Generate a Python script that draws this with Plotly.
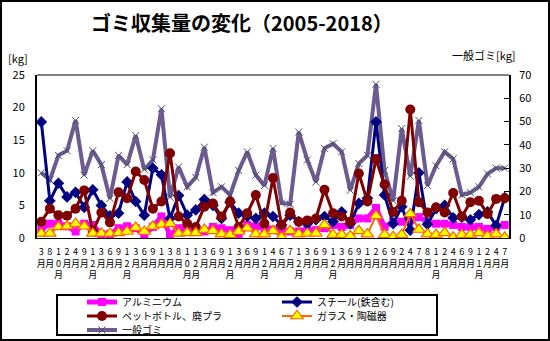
import plotly.graph_objects as go

# Collection months (category labels along the x axis)
months = ["3月", "8月", "10月", "2月", "4月", "9月", "12月", "3月", "6月", "9月",
          "12月", "3月", "6月", "9月", "1月", "3月", "8月", "10月", "12月", "3月",
          "6月", "9月", "12月", "3月", "6月", "9月", "12月", "4月", "6月", "7月",
          "12月", "3月", "6月", "9月", "12月", "3月", "6月", "9月", "1月", "2月",
          "6月", "9月", "2月", "4月", "7月", "8月", "11月", "2月", "4月", "6月",
          "9月", "11月", "2月", "4月", "7月"]

# Recyclables [kg] (left axis)
aluminium = [1.3, 2.2, 2.2, 1.8, 1.0, 2.2, 2.0, 0.6, 0.6, 1.5,
             1.8, 1.5, 0.4, 1.7, 3.3, 0.5, 1.5, 1.3, 1.0, 1.0,
             1.7, 1.5, 1.2, 0.3, 2.0, 1.8, 1.5, 1.3, 1.3, 1.0,
             1.0, 1.3, 1.2, 1.5, 2.0, 1.7, 2.0, 3.0, 3.0, 4.6,
             1.7, 2.5, 2.5, 2.7, 3.2, 2.5, 2.2, 2.2, 2.0, 1.7,
             1.7, 1.7, 1.4, 1.7, 2.0]
steel = [17.8, 5.7, 8.4, 6.3, 7.0, 4.7, 7.4, 5.0, 3.4, 3.8,
         8.6, 5.6, 3.5, 10.7, 9.7, 3.0, 6.5, 3.5, 4.3, 5.9,
         5.0, 3.0, 5.5, 3.8, 3.3, 3.0, 3.8, 3.3, 2.0, 3.5,
         2.5, 2.2, 2.8, 3.3, 2.5, 4.0, 2.2, 5.3, 6.1, 17.8,
         6.6, 2.2, 4.8, 1.2, 10.0, 2.1, 4.5, 5.0, 3.1, 3.2,
         2.8, 3.6, 4.0, 1.9, 6.2]
pet_plastic = [2.5, 4.5, 3.5, 3.4, 4.5, 7.3, 1.0, 3.9, 2.4, 7.0,
               6.1, 10.2, 8.9, 4.5, 5.6, 13.0, 3.3, 2.2, 1.7, 4.8,
               5.3, 3.3, 5.6, 1.7, 3.8, 6.6, 2.2, 9.2, 2.0, 3.9,
               2.5, 2.7, 3.0, 7.4, 3.8, 3.3, 2.5, 9.9, 5.6, 12.1,
               8.2, 4.0, 5.7, 19.7, 5.5, 3.9, 4.7, 3.9, 6.9, 3.3,
               5.5, 5.7, 3.7, 6.0, 6.1]
glass = [0.7, 0.7, 1.7, 1.8, 2.2, 1.8, 0.7, 0.7, 0.7, 0.8,
         1.0, 1.6, 1.0, 1.8, 2.1, 2.2, 0.7, 0.8, 0.8, 1.3,
         1.1, 0.6, 0.5, 1.0, 1.5, 0.6, 0.6, 1.1, 0.1, 1.1,
         0.6, 0.7, 0.7, 2.0, 0.5, 0.5, 0.3, 1.1, 0.6, 3.4,
         0.5, 0.2, 0.5, 3.7, 1.3, 0.6, 0.5, 0.8, 0.1, 0.5,
         0.5, 0.8, 0.3, 0.6, 0.1]

# General waste [kg] (right axis)
general = [28, 25, 35.5, 37.5, 50.5, 27, 37.5, 31.5, 17, 35.5,
           31.5, 44, 29.5, 33.5, 55.5, 17.5, 30.5, 22, 26, 39,
           19.5, 22, 18.5, 29, 37, 27, 22.5, 38.5, 15, 14.5,
           45.5, 33.5, 24, 38.5, 40.5, 37, 20.5, 32, 35.5, 66,
           29, 16, 47, 26.5, 50.5, 22.5, 31, 37, 34, 18.5,
           19.5, 22, 27.5, 30, 30]

FONT = "Noto Sans CJK JP"
W, H = 550, 341
ML, MR, MT, MB = 37, 41, 75, 103
PW, PH = W - ML - MR, H - MT - MB


def px_x(v):
    return (v - ML) / PW


def px_y(v):
    return (H - MB - v) / PH


x = list(range(len(months)))
ticktext = ["<br>".join(m) for m in months]

fig = go.Figure()

# General waste sits on the base (right-hand) axis so it is drawn underneath
fig.add_trace(go.Scatter(
    x=x, y=general, name="一般ゴミ", yaxis="y", legend="legend3",
    mode="lines+markers",
    line=dict(color="#6b5b8f", width=4),
    marker=dict(symbol="x-thin", size=7, color="#6b5b8f",
                line=dict(width=1, color="#4a4a6a")),
))

fig.add_trace(go.Scatter(
    x=x, y=aluminium, name="アルミニウム", yaxis="y2", legend="legend",
    mode="lines+markers",
    line=dict(color="#ff00ff", width=5),
    marker=dict(symbol="square", size=8, color="#ff00ff"),
))
fig.add_trace(go.Scatter(
    x=x, y=steel, name="スチール(鉄含む)", yaxis="y2", legend="legend",
    mode="lines+markers",
    line=dict(color="#000080", width=3),
    marker=dict(symbol="diamond", size=9, color="#000080"),
))
fig.add_trace(go.Scatter(
    x=x, y=pet_plastic, name="ペットボトル、廃プラ", yaxis="y2", legend="legend2",
    mode="lines+markers",
    line=dict(color="#800000", width=3),
    marker=dict(symbol="circle", size=10, color="#800000"),
))
fig.add_trace(go.Scatter(
    x=x, y=glass, name="ガラス・陶磁器", yaxis="y2", legend="legend2",
    mode="lines+markers",
    line=dict(color="#ff6600", width=2),
    marker=dict(symbol="triangle-up", size=11, color="#ffff00",
                line=dict(width=1.2, color="#ff6600")),
))

legend_common = dict(
    orientation="h", xanchor="left", yanchor="middle",
    entrywidth=150, entrywidthmode="pixels",
    bgcolor="rgba(0,0,0,0)", borderwidth=0,
    font=dict(family=FONT, size=10, color="black"),
    itemwidth=30, tracegroupgap=0,
)
LEG_X = px_x(82)

fig.update_layout(
    width=W, height=H,
    margin=dict(l=ML, r=MR, t=MT, b=MB, autoexpand=False),
    paper_bgcolor="white", plot_bgcolor="white",
    font=dict(family=FONT, size=11, color="black"),
    showlegend=True,
    legend=dict(x=LEG_X, y=px_y(302), **legend_common),
    legend2=dict(x=LEG_X, y=px_y(316), **legend_common),
    legend3=dict(x=LEG_X, y=px_y(330), **legend_common),
    xaxis=dict(
        range=[-0.5, len(months) - 0.5],
        tickmode="array", tickvals=x, ticktext=ticktext,
        tickangle=0, showgrid=False, zeroline=False,
        showline=True, linecolor="black", linewidth=1,
        ticks="", tickfont=dict(family=FONT, size=9, color="black"),
        ticklabelstandoff=5,
    ),
    yaxis=dict(
        side="right", range=[0, 70], dtick=10,
        showgrid=False, zeroline=False,
        showline=True, linecolor="black", linewidth=2,
        ticks="inside", ticklen=5, tickwidth=1, tickcolor="black",
        tickfont=dict(family=FONT, size=11, color="black"),
        ticklabelstandoff=6,
    ),
    yaxis2=dict(
        overlaying="y", side="left", range=[0, 25], dtick=5,
        showgrid=False, zeroline=False,
        showline=True, linecolor="black", linewidth=2,
        ticks="", tickfont=dict(family=FONT, size=11, color="black"),
        ticklabelstandoff=8,
    ),
)

# Title and axis unit captions
fig.add_annotation(
    text="<b>ゴミ収集量の変化（2005-2018）</b>", xref="paper", yref="paper",
    x=px_x(242), y=px_y(22), xanchor="center", yanchor="middle",
    showarrow=False, font=dict(family=FONT, size=20, color="black"),
)
fig.add_annotation(
    text="[kg]", xref="paper", yref="paper",
    x=px_x(18), y=px_y(58), xanchor="center", yanchor="middle",
    showarrow=False, font=dict(family=FONT, size=11, color="black"),
)
fig.add_annotation(
    text="一般ゴミ[kg]", xref="paper", yref="paper",
    x=px_x(484), y=px_y(55), xanchor="center", yanchor="middle",
    showarrow=False, font=dict(family=FONT, size=11, color="black"),
)

# Plot-area top border, legend frame and chart frame
fig.add_shape(type="line", xref="paper", yref="paper",
              x0=0, x1=1, y0=1, y1=1, line=dict(color="#808080", width=2))
fig.add_shape(type="rect", xref="paper", yref="paper",
              x0=px_x(57), x1=px_x(437), y0=px_y(335), y1=px_y(295),
              line=dict(color="black", width=2), layer="below")
fig.add_shape(type="rect", xref="paper", yref="paper",
              x0=px_x(1), x1=px_x(549), y0=px_y(340), y1=px_y(1),
              line=dict(color="black", width=2))

fig.write_html("out.html")
